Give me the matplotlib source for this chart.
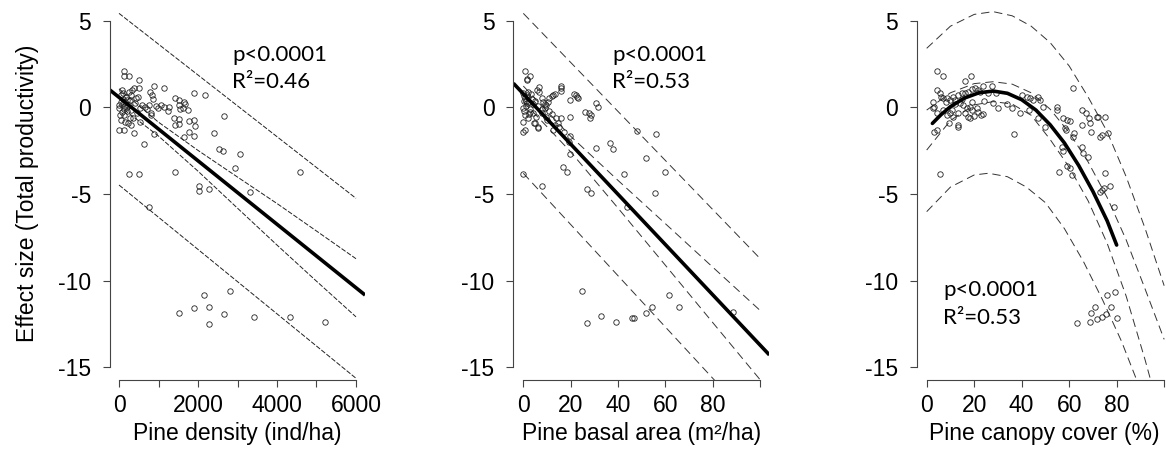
import numpy as np
import matplotlib
matplotlib.use("Agg")
import matplotlib.pyplot as plt

plt.rcParams['font.family'] = ['Liberation Sans', 'DejaVu Sans']
plt.rcParams['lines.scale_dashes'] = False

# ---------------- data ----------------
# panel 1: pine density (ind/ha) vs effect size
dens_x = [118, 126, 245, 498, 886, 1139, 1899, 2169, 776, 840, 860, 1410, 1528, 1646, 1680,
          1511, 1536, 1747, 1620, 1393, 1511, 1410, 1511, 1764, 1899, 1916, 1772, 1899, 1646,
          2650, 2405, 0, 127, 371, 886, 633, 2524, 2625, 3055, 2929, 245, 498, 1410, 2017,
          2017, 2270, 3308, 4582, 759,
          1527, 1890, 2160, 2287, 2287, 2658, 2810, 3418, 4329, 5215,
          0, 10, 40, 80, 80, 120, 170, 250, 250, 280, 310, 330, 350, 380, 400, 430, 460, 480,
          500, 520, 520, 20, 60, 140, 230, 270, 310, 570, 650, 720, 760, 820, 930, 990, 1070,
          1130, 1260, 1240, 800, 100, 150, 200, 60, 190, 110, 300, 200, 160, 90, 130]
dens_y = [2.11, 1.84, 1.84, 1.57, 1.24, 1.13, 0.84, 0.72, 0.92, 0.70, 0.50, 0.53, 0.43, 0.30, 0.18,
          0.14, -0.09, -0.15, -0.05, -0.59, -0.66, -1.01, -0.97, -0.78, -0.72, -1.07, -1.43, -1.62, -1.69,
          -0.51, -1.45, -1.30, -1.30, -1.45, -1.55, -2.11, -2.40, -2.50, -2.70, -3.48, -3.86, -3.86, -3.75, -4.52,
          -4.83, -4.71, -4.90, -3.75, -5.73,
          -11.86, -11.57, -10.82, -11.51, -12.51, -11.94, -10.63, -12.10, -12.09, -12.42,
          0.14, -0.05, 0.33, 1.01, -0.24, -0.43, 0.63, 0.92, 0.14, 0.43, -0.14, 1.01, -0.63, 1.11, 0.24, 0.53, -0.34, 0.63,
          1.15, -0.05, -0.82, -0.43, -0.72, -0.82, -0.92, -0.63, -1.01, 0.14, 0.05, -0.10, 0.14, -0.34, 0.10, -0.05, 0.14,
          0.05, 0.05, -0.20, -0.43, 0.50, 0.30, 0.00, 0.70, -0.20, 0.85, 0.70, 0.45, 0.10, 0.25, -0.10]
dens_fit_x = [-230, 6230]
dens_fit_y = [1.01, -10.84]
dens_ci_x = [0, 1000, 2000, 3000, 4000, 5000, 6000]
dens_ci_hi = [1.08, -0.85, -2.48, -4.02, -5.55, -7.14, -8.74]
dens_ci_lo = [0.10, -1.65, -3.68, -5.82, -7.95, -10.04, -12.10]
dens_pi_x = [0, 6000]
dens_pi_hi = [5.44, -5.25]
dens_pi_lo = [-4.48, -15.65]

# panel 2: pine basal area (m2/ha) vs effect size
basal_x = [0.7, 2.8, 1.4, 6.8, 15.9, 15.9, 19.7, 21.5, 22.5, 12.7, 26.0, 27.9, 28.2, 28.6, 30.6, 31.7,
           19.7, 19.7, 0.0, 0.7, 4.5, 6.3, 30.7, 36.6, 37.7, 47.9, 55.9, 19.7, 16.9, 18.6, 51.7, 59.9,
           42.7, 26.8, 28.5, 55.6, 7.7, 0.0, 43.7,
           24.6, 26.8, 32.7, 39.0, 45.8, 46.8, 51.7, 54.6, 61.4, 65.6, 88.7,
           1.7, 6.8, 5.6, 15.8, 12.0, 13.4, 11.0, 8.5, 9.8, 10.5, 9.1, 7.8, 0.0, 0.7, 1.4, 2.1, 0.0,
           0.7, 2.8, 0.0, 4.9, 6.3, 5.3, 7.8, 9.8, 12.0, 14.0, 13.4, 12.7, 14.8, 19.5, 22.3, 23.3,
           0.3, 1.0, 1.5, 2.5, 3.0, 0.5, 1.8, 3.5, 2.0, 4.0, 0.2, 1.2, 2.4, 3.2, 4.2, 5.0, 6.0, 8.0,
           9.0, 11.0, 10.0, 16.0, 15.0, 17.0]
basal_y = [2.11, 1.82, 1.59, 1.17, 1.24, 1.10, 0.43, 0.76, 0.63, 0.72, -0.28, -0.34, -0.59, -0.44, 0.24, 0.01,
           -0.57, -1.65, -1.40, -1.30, -0.92, -1.20, -2.32, -2.07, -2.40, -1.37, -1.55, -2.71, -3.46, -3.75, -2.90, -3.75,
           -3.87, -4.69, -4.92, -4.92, -4.54, -3.87, -5.73,
           -10.61, -12.48, -12.05, -12.40, -12.19, -12.15, -11.90, -11.55, -10.82, -11.51, -11.84,
           1.65, 0.92, 1.02, 0.95, 0.68, 0.76, 0.57, 0.34, 0.14, 0.30, -0.05, 0.53, 0.82, 0.53, 0.24, 0.63, -0.05,
           -0.43, -0.24, -0.82, -0.91, -1.11, -0.53, -0.34, -0.53, -0.39, -0.63, -1.01, -1.30, -0.91, -1.98, 0.72, 0.53,
           0.40, 0.10, 0.70, 0.30, -0.10, -0.20, -0.60, 0.50, 0.90, 0.20, 0.65, 0.35, -0.35, 0.80, -0.30, 0.40, 0.10, -0.10,
           0.20, -0.20, -0.70, -0.60, -1.10, -1.40]
basal_fit_x = [-4.2, 104]
basal_fit_y = [1.40, -14.30]
basal_ci_x = [0, 20, 40, 60, 80, 100]
basal_ci_hi = [1.24, -1.66, -4.21, -6.71, -9.22, -11.72]
basal_ci_lo = [0.34, -2.56, -5.81, -9.11, -12.42, -15.72]
basal_pi_x = [0, 100]
basal_pi_hi = [5.44, -8.72]
basal_pi_lo = [-3.80, -18.60]

# panel 3: pine canopy cover (%) vs effect size
cover_x = [4.5, 6.7, 16.1, 18.7, 23.6, 27.4, 2.8, 2.5, 4.5,
           5.6, 7.0, 8.4, 9.8, 10.9, 11.9, 13.3, 14.7, 16.1, 17.5, 18.9, 20.4, 21.8, 22.5,
           4.2, 7.0, 8.4, 10.5, 11.2, 13.3, 14.0, 15.2, 16.8, 18.2, 18.9, 21.1, 21.8, 22.9, 23.9,
           9.5, 13.1, 13.1, 17.5, 18.2, 3.1, 4.5, 5.6,
           28.1, 30.2, 33.7, 35.8, 39.3, 26.0, 29.2, 36.9,
           40.0, 42.1, 43.5, 44.9, 47.0, 47.7, 49.1, 43.2, 47.0, 49.8,
           55.0, 55.0, 57.5, 58.9, 58.2, 58.7, 60.4, 61.8,
           65.3, 67.1, 68.5, 68.8, 71.6, 62.0, 61.8,
           65.3, 69.1, 72.3, 73.0, 73.7, 75.1, 76.5,
           56.8, 57.3, 65.3, 66.0, 68.1, 59.2, 60.4, 55.9, 61.1, 75.1, 73.0, 74.0, 74.7, 77.2, 79.0,
           63.2, 68.8, 69.2, 70.9, 71.8, 73.7, 75.5, 77.5, 75.8, 79.3, 80.0,
           6.0, 8.0, 12.0, 15.0, 19.0, 20.0, 24.0, 3.0, 10.0, 16.0]
cover_y = [2.11, 1.82, 1.55, 1.82, 1.24, 1.24, 0.34, -0.05, 1.01,
           0.82, 0.53, 0.53, 0.43, 0.63, 0.43, 0.72, 0.82, 0.86, 0.92, 1.05, 1.11, 1.01, 0.92,
           -0.34, -0.14, -0.43, -0.14, -0.53, -0.34, 0.24, 0.14, -0.05, 0.05, -0.14, -0.05, -0.24, -0.43, -0.38,
           -0.88, -1.01, -1.11, -0.53, -0.63, -1.40, -1.30, -3.86,
           0.24, -0.05, 0.20, -0.05, -0.30, 0.82, 0.82, -1.53,
           0.72, 0.63, 0.53, 0.43, 0.59, 0.43, 0.05, -0.14, -0.63, -1.15,
           0.05, -0.14, -0.63, -0.72, -1.20, -1.30, -0.78, 1.15,
           -0.14, -0.34, -0.63, -0.92, -0.53, -1.50, -1.70,
           -1.01, -1.40, -0.53, -1.69, -1.59, -0.57, -1.46,
           -2.27, -2.50, -2.27, -2.65, -2.88, -3.36, -3.52, -3.75, -3.90, -3.77, -4.90, -4.77, -4.67, -4.54, -5.73,
           -12.48, -12.38, -11.86, -11.51, -12.20, -12.13, -11.94, -11.51, -10.84, -10.65, -12.15,
           0.60, 0.30, 0.20, 0.50, 0.30, -0.50, 0.40, 0.05, -0.30, -0.30]
cover_fit_x = [2.4, 6, 10, 16, 22, 28, 34, 40, 46, 52, 58, 64, 70, 76, 80]
cover_fit_y = [-0.92, -0.42, 0.05, 0.55, 0.85, 0.95, 0.82, 0.45, -0.15, -1.0, -2.05, -3.35, -4.85, -6.55, -7.95]
cover_pi_hi_x = [0, 10, 20, 28, 36, 44, 52, 60, 68, 76, 84, 92, 100]
cover_pi_hi_y = [3.42, 4.70, 5.38, 5.54, 5.30, 4.70, 3.75, 2.40, 0.60, -1.40, -4.00, -7.00, -10.30]
cover_pi_lo_x = [0, 10, 20, 26, 34, 42, 50, 58, 66, 74, 82, 90, 100]
cover_pi_lo_y = [-6.02, -4.60, -3.90, -3.80, -4.00, -4.60, -5.50, -7.00, -8.90, -11.10, -13.50, -16.30, -20.0]
cover_ci_x = [0, 10, 20, 28, 36, 44, 52, 60, 68, 76, 84, 92, 100]
cover_ci_hi = [-0.15, 0.85, 1.38, 1.49, 1.35, 0.85, -0.10, -1.45, -3.15, -5.20, -7.65, -10.50, -13.40]
cover_ci_lo = [-2.46, -0.75, 0.15, 0.34, 0.20, -0.45, -1.85, -3.45, -5.40, -7.85, -10.90, -14.60, -18.60]

yticks = [-15, -10, -5, 0, 5]

# ---------------- figure ----------------
W, H = 1166, 455
fig = plt.figure(figsize=(W / 100, H / 100), dpi=100)

ax_bottom_px = 380
ax_top_px = 10.6
ylim = (-15.75, 5.6)


def make_ax(left_px, width_px):
    return fig.add_axes([left_px / W, (H - ax_bottom_px) / H,
                         width_px / W, (ax_bottom_px - ax_top_px) / H])


def style(ax, xlim, xticks, xticklabels, xbound, xlabel):
    ax.set_xlim(*xlim)
    ax.set_ylim(*ylim)
    for s in ['top', 'right']:
        ax.spines[s].set_visible(False)
    for s in ['left', 'bottom']:
        ax.spines[s].set_color('#444444')
        ax.spines[s].set_linewidth(0.8)
    ax.spines['left'].set_bounds(-15, 5)
    ax.spines['bottom'].set_bounds(*xbound)
    ax.set_yticks(yticks)
    ax.set_yticklabels([str(v) for v in yticks])
    ax.set_xticks(xticks)
    ax.set_xticklabels(xticklabels)
    ax.tick_params(axis='both', direction='out', length=5, width=0.8,
                   color='#444444', labelsize=16.5, labelcolor='black')
    ax.tick_params(axis='y', pad=8.5)
    ax.tick_params(axis='x', pad=5)
    ax.text(0.5, -0.1435, xlabel, transform=ax.transAxes, ha='center',
            va='center', fontsize=16.5, clip_on=False)


pt_kw = dict(linestyle='none', marker='o', mfc='none', mec='#222222', ms=3.9, mew=0.6)
fit_kw = dict(color='black', lw=2.6, solid_capstyle='butt')


def annot(ax, x, y1, y2, r2):
    ax.text(x, y1, 'p<0.0001', fontsize=16, family='Lato', va='center', ha='left')
    ax.text(x, y2, 'R\u00b2=' + r2, fontsize=16, family='Lato', va='center', ha='left')


# panel 1
ax1 = make_ax(110, 255)
d1 = dict(color='#222222', lw=0.7, dashes=(3.5, 1.2))
ax1.plot(dens_pi_x, dens_pi_hi, **d1)
ax1.plot(dens_pi_x, dens_pi_lo, **d1)
ax1.plot(dens_ci_x, dens_ci_hi, **d1)
ax1.plot(dens_ci_x, dens_ci_lo, **d1)
ax1.plot(dens_x, dens_y, **pt_kw)
ax1.plot(dens_fit_x, dens_fit_y, **fit_kw)
style(ax1, (-228, 6228), [0, 1000, 2000, 3000, 4000, 5000, 6000],
      ['0', '', '2000', '', '4000', '', '6000'], (0, 6000), 'Pine density (ind/ha)')
annot(ax1, 2861, 3.03, 1.47, '0.46')

# panel 2
ax2 = make_ax(513.3, 256)
d2 = dict(color='#333333', lw=0.7, dashes=(6, 3.5))
ax2.plot(basal_pi_x, basal_pi_hi, **d2)
ax2.plot(basal_pi_x, basal_pi_lo, **d2)
ax2.plot(basal_ci_x, basal_ci_hi, **d2)
ax2.plot(basal_ci_x, basal_ci_lo, **d2)
ax2.plot(basal_x, basal_y, **pt_kw)
ax2.plot(basal_fit_x, basal_fit_y, **fit_kw)
style(ax2, (-4.23, 103.97), [0, 20, 40, 60, 80, 100],
      ['0', '20', '40', '60', '80', ''], (0, 100), 'Pine basal area (m\u00b2/ha)')
annot(ax2, 37.5, 3.03, 1.47, '0.53')

# panel 3
ax3 = make_ax(916.7, 256)
ax3.plot(cover_pi_hi_x, cover_pi_hi_y, **d2)
ax3.plot(cover_pi_lo_x, cover_pi_lo_y, **d2)
ax3.plot(cover_ci_x, cover_ci_hi, **d2)
ax3.plot(cover_ci_x, cover_ci_lo, **d2)
ax3.plot(cover_x, cover_y, **pt_kw)
ax3.plot(cover_fit_x, cover_fit_y, color='black', lw=2.6, solid_capstyle='round',
         solid_joinstyle='round')
style(ax3, (-4.21, 103.6), [0, 20, 40, 60, 80, 100],
      ['0', '20', '40', '60', '80', ''], (0, 100), 'Pine canopy cover (%)')
annot(ax3, 6.9, -10.55, -12.17, '0.53')

fig.text(28 / W, 1 - 193 / H, 'Effect size (Total productivity)', rotation=90,
         ha='center', va='center', fontsize=16.5)

fig.savefig('out.png', dpi=100)
